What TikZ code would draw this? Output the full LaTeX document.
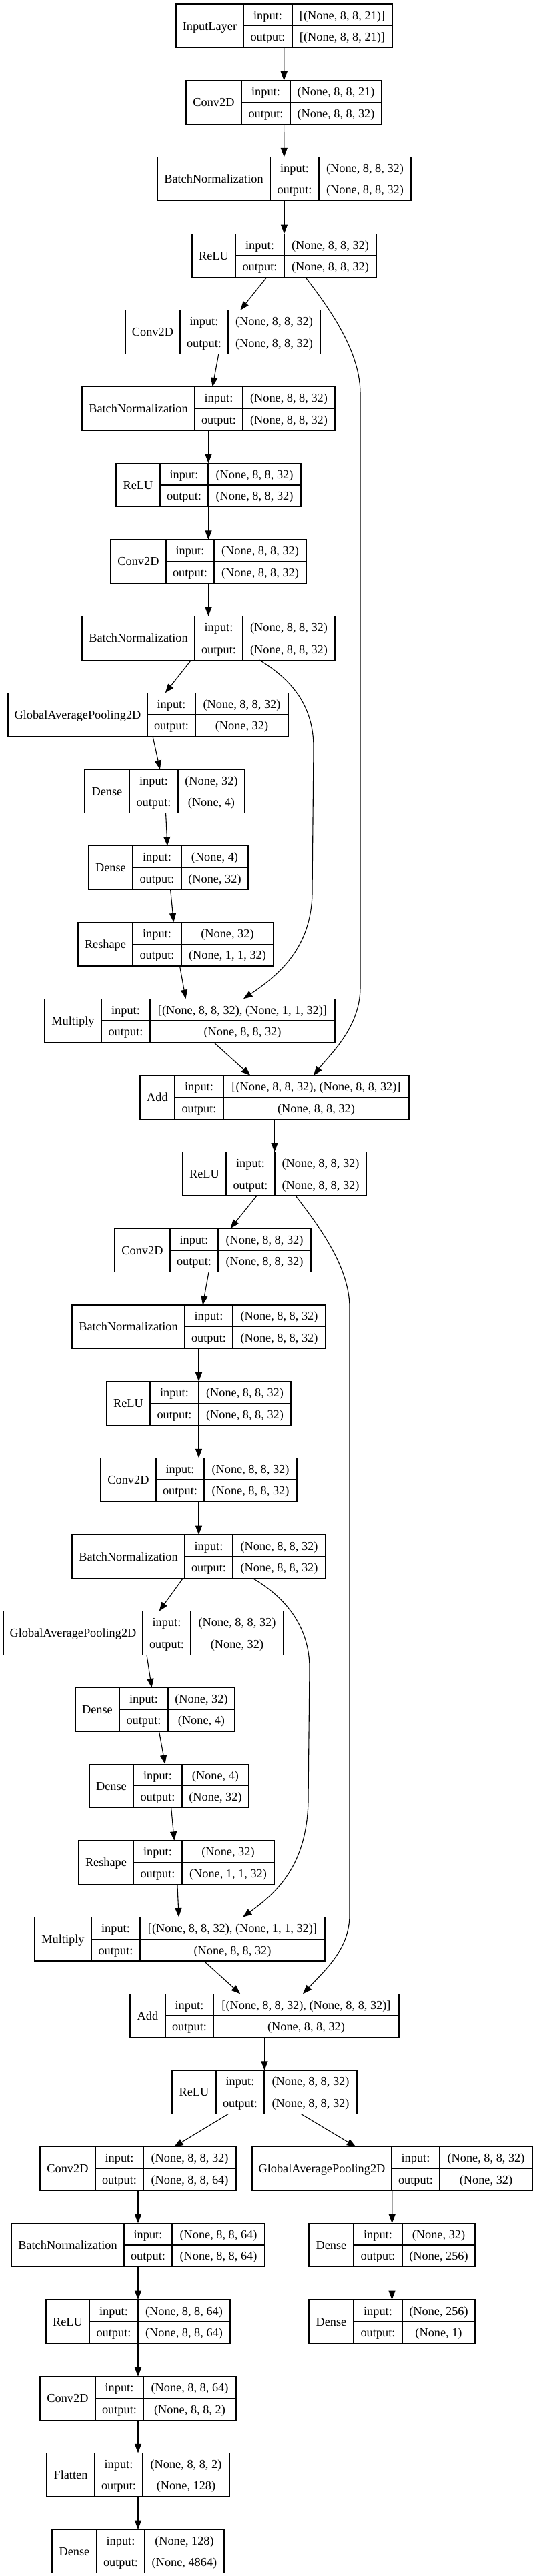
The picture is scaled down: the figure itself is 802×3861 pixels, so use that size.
\documentclass[tikz,border=0pt]{standalone}
\usepackage{fontspec}
\setmainfont{Liberation Serif}
\usetikzlibrary{arrows.meta}
\tikzset{
	layerbox/.style={draw, line width=1.2pt, minimum height=65.5pt, inner sep=0pt, outer sep=0pt},
	cellline/.style={line width=1.2pt},
	celltext/.style={anchor=base, inner sep=0pt, font=\fontsize{18.3pt}{22pt}\selectfont},
	flow/.style={line width=1.1pt, -{Triangle[length=13.5pt,width=10pt]}}
}
% id, rank, left, split1, split2, right, name, input, output
\def\layer#1#2#3#4#5#6#7#8#9{%
	\pgfmathsetmacro\ltop{6+114.7*#2}%
	\pgfmathsetmacro\lmid{\ltop+32.75}%
	\pgfmathsetmacro\lbot{\ltop+65.5}%
	\node[layerbox, minimum width=#6pt-#3pt] (#1) at ({(#3+#6)/2}, \lmid) {};%
	\draw[cellline] (#4, \ltop) -- (#4, \lbot) (#5, \ltop) -- (#5, \lbot) (#4, \lmid) -- (#6, \lmid);%
	\node[celltext] (#1-n) at ({(#3+#4)/2}, \ltop+39) {#7};%
	\node[celltext] (#1-i) at ({(#4+#5)/2}, \ltop+23) {input:};%
	\node[celltext] (#1-o) at ({(#4+#5)/2}, \ltop+55.5) {output:};%
	\node[celltext] (#1-iv) at ({(#5+#6)/2}, \ltop+23) {#8};%
	\node[celltext] (#1-ov) at ({(#5+#6)/2}, \ltop+55.5) {#9};%
}

\begin{document}
\begin{tikzpicture}[x=1pt, y=-1pt]
	%%%%% START %%%%%
	
	\useasboundingbox (0, 0) rectangle (802, 3861);
	
	\layer{in}{0}{264}{365}{438}{588}{InputLayer}{[(None, 8, 8, 21)]}{[(None, 8, 8, 21)]}
	\layer{c1}{1}{279}{362}{435}{572}{Conv2D}{(None, 8, 8, 21)}{(None, 8, 8, 32)}
	\layer{bn1}{2}{236}{405}{478}{616}{BatchNormalization}{(None, 8, 8, 32)}{(None, 8, 8, 32)}
	\layer{r1}{3}{288}{353}{426}{564}{ReLU}{(None, 8, 8, 32)}{(None, 8, 8, 32)}
	
	% first block
	\layer{c2}{4}{188}{270}{342}{480}{Conv2D}{(None, 8, 8, 32)}{(None, 8, 8, 32)}
	\layer{bn2}{5}{123}{292}{364}{502}{BatchNormalization}{(None, 8, 8, 32)}{(None, 8, 8, 32)}
	\layer{r2}{6}{174}{240}{312}{451}{ReLU}{(None, 8, 8, 32)}{(None, 8, 8, 32)}
	\layer{c3}{7}{166}{249}{321}{459}{Conv2D}{(None, 8, 8, 32)}{(None, 8, 8, 32)}
	\layer{bn3}{8}{123}{292}{364}{502}{BatchNormalization}{(None, 8, 8, 32)}{(None, 8, 8, 32)}
	\layer{gap1}{9}{12}{221}{293}{432}{GlobalAveragePooling2D}{(None, 8, 8, 32)}{(None, 32)}
	\layer{d1}{10}{127}{194}{267}{367}{Dense}{(None, 32)}{(None, 4)}
	\layer{d2}{11}{133}{199}{272}{372}{Dense}{(None, 4)}{(None, 32)}
	\layer{rs1}{12}{117}{199}{272}{410}{Reshape}{(None, 32)}{(None, 1, 1, 32)}
	\layer{mul1}{13}{67}{152}{225}{502}{Multiply}{[(None, 8, 8, 32), (None, 1, 1, 32)]}{(None, 8, 8, 32)}
	\layer{add1}{14}{210}{262}{335}{613}{Add}{[(None, 8, 8, 32), (None, 8, 8, 32)]}{(None, 8, 8, 32)}
	\layer{r3}{15}{274}{339}{412}{549}{ReLU}{(None, 8, 8, 32)}{(None, 8, 8, 32)}
	
	% second block
	\layer{c4}{16}{172}{255}{327}{466}{Conv2D}{(None, 8, 8, 32)}{(None, 8, 8, 32)}
	\layer{bn4}{17}{108}{277}{349}{488}{BatchNormalization}{(None, 8, 8, 32)}{(None, 8, 8, 32)}
	\layer{r4}{18}{160}{225}{298}{436}{ReLU}{(None, 8, 8, 32)}{(None, 8, 8, 32)}
	\layer{c5}{19}{151}{234}{306}{445}{Conv2D}{(None, 8, 8, 32)}{(None, 8, 8, 32)}
	\layer{bn5}{20}{108}{277}{349}{488}{BatchNormalization}{(None, 8, 8, 32)}{(None, 8, 8, 32)}
	\layer{gap2}{21}{5}{214}{286}{425}{GlobalAveragePooling2D}{(None, 8, 8, 32)}{(None, 32)}
	\layer{d3}{22}{113}{179}{252}{352}{Dense}{(None, 32)}{(None, 4)}
	\layer{d4}{23}{134}{200}{273}{373}{Dense}{(None, 4)}{(None, 32)}
	\layer{rs2}{24}{118}{200}{273}{411}{Reshape}{(None, 32)}{(None, 1, 1, 32)}
	\layer{mul2}{25}{52}{137}{210}{487}{Multiply}{[(None, 8, 8, 32), (None, 1, 1, 32)]}{(None, 8, 8, 32)}
	\layer{add2}{26}{195}{248}{320}{598}{Add}{[(None, 8, 8, 32), (None, 8, 8, 32)]}{(None, 8, 8, 32)}
	\layer{r5}{27}{258}{324}{396}{535}{ReLU}{(None, 8, 8, 32)}{(None, 8, 8, 32)}
	
	% heads
	\layer{c6}{28}{60}{143}{215}{354}{Conv2D}{(None, 8, 8, 32)}{(None, 8, 8, 64)}
	\layer{bn6}{29}{17}{186}{258}{397}{BatchNormalization}{(None, 8, 8, 64)}{(None, 8, 8, 64)}
	\layer{r6}{30}{69}{134}{207}{345}{ReLU}{(None, 8, 8, 64)}{(None, 8, 8, 64)}
	\layer{c7}{31}{60}{143}{215}{354}{Conv2D}{(None, 8, 8, 64)}{(None, 8, 8, 2)}
	\layer{fl}{32}{70}{142}{214}{344}{Flatten}{(None, 8, 8, 2)}{(None, 128)}
	\layer{d7}{33}{78}{145}{217}{336}{Dense}{(None, 128)}{(None, 4864)}
	\layer{gap3}{28}{378}{587}{659}{798}{GlobalAveragePooling2D}{(None, 8, 8, 32)}{(None, 32)}
	\layer{d5}{29}{463}{530}{603}{712}{Dense}{(None, 32)}{(None, 256)}
	\layer{d6}{30}{463}{530}{603}{712}{Dense}{(None, 256)}{(None, 1)}
	
	\foreach \a/\b in {in/c1, c1/bn1, bn1/r1, r1/c2, c2/bn2, bn2/r2, r2/c3, c3/bn3, bn3/gap1, gap1/d1, d1/d2, d2/rs1, rs1/mul1, mul1/add1, add1/r3,
		r3/c4, c4/bn4, bn4/r4, r4/c5, c5/bn5, bn5/gap2, gap2/d3, d3/d4, d4/rs2, rs2/mul2, mul2/add2, add2/r5,
		r5/c6, c6/bn6, bn6/r6, r6/c7, c7/fl, fl/d7, r5/gap3, gap3/d5, d5/d6}
		\draw[flow] (\a) -- (\b);
	
	% skip connections
	\draw[flow] ([xshift=32pt]r1.south) .. controls (500, 470) and (540, 530) .. (540, 590) -- (540, 1480) .. controls (540, 1540) and (495, 1580) .. ([xshift=58.5pt]add1.north);
	\draw[flow] ([xshift=76.5pt]bn3.south) .. controls (440, 1020) and (470, 1060) .. (470, 1120) -- (468, 1340) .. controls (466, 1420) and (420, 1460) .. ([xshift=80.5pt]mul1.north);
	\draw[flow] ([xshift=31.5pt]r3.south) .. controls (480, 1840) and (524, 1900) .. (524, 1960) -- (524, 2870) .. controls (524, 2920) and (490, 2950) .. ([xshift=57.5pt]add2.north);
	\draw[flow] ([xshift=81pt]bn5.south) .. controls (430, 2395) and (464, 2440) .. (464, 2500) -- (462, 2700) .. controls (460, 2800) and (410, 2840) .. ([xshift=94.5pt]mul2.north);
	
	%%%%% END %%%%%
\end{tikzpicture}
\end{document}
